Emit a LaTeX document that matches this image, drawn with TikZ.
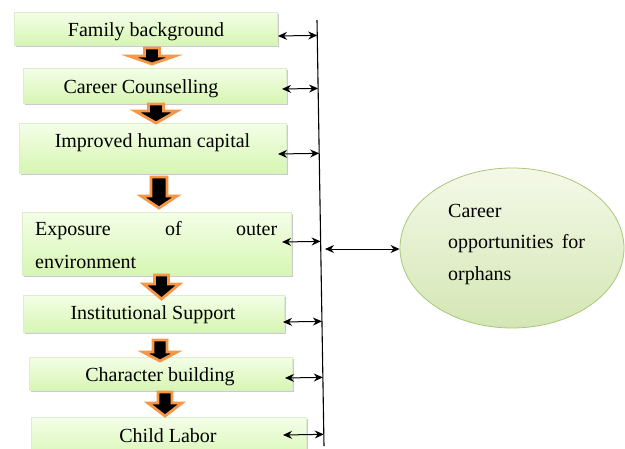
\documentclass[tikz,border=0pt]{standalone}
\usepackage{fontspec}
\setmainfont{Liberation Serif}
\newfontfamily\timesfont{Liberation Serif}
\usetikzlibrary{shadows,arrows.meta,calc,shapes.geometric}
\definecolor{boxtop}{RGB}{244,254,232}
\definecolor{boxbot}{RGB}{214,246,178}
\definecolor{boxline}{RGB}{220,238,204}
\definecolor{elltop}{RGB}{244,249,232}
\definecolor{ellbot}{RGB}{212,230,180}
\definecolor{ellline}{RGB}{168,200,120}
\definecolor{arrorange}{RGB}{247,150,70}
\newcommand\dnarr[7]{% name, cx, top, headstart, tip, shaft half, head half
  \draw[downarr] (#2-#6,#3) -- (#2+#6,#3) -- (#2+#6,#4) -- (#2+#7,#4) -- (#2,#5)
    -- (#2-#7,#4) -- (#2-#6,#4) -- cycle;
  \coordinate (#1) at (#2,#5);}
\begin{document}
\begin{tikzpicture}[x=1pt,y=-1pt,
  box/.style={draw=boxline, line width=0.4pt, top color=boxtop, bottom color=boxbot,
    anchor=north west, inner sep=0pt,
    drop shadow={shadow xshift=1.5pt, shadow yshift=-2pt, opacity=0.35, fill=black!60}},
  lbl/.style={font=\timesfont\fontsize{20}{24}\selectfont, anchor=base, inner sep=0pt},
  dbl/.style={{Stealth[length=9pt,width=8pt]}-{Stealth[length=9pt,width=8pt]}, line width=1pt},
  downarr/.style={draw=arrorange, fill=black, line width=2.8pt, line join=miter}]
\useasboundingbox (0,0) rectangle (625,448);
\clip (0,0) rectangle (625,448);
% boxes
\node[box, minimum width=263, minimum height=33] (b1) at (14,12) {};
\node[box, minimum width=263, minimum height=35] (b2) at (23,68) {};
\node[box, minimum width=267, minimum height=50] (b3) at (19,123) {};
\node[box, minimum width=269, minimum height=63] (b4) at (22,212) {};
\node[box, minimum width=261, minimum height=37] (b5) at (23,295) {};
\node[box, minimum width=263, minimum height=33] (b6) at (29,357) {};
\node[box, minimum width=275, minimum height=45] (b7) at (31,417) {};
% texts
\node[lbl] (t1) at (146,36) {Family background};
\node[lbl] (t2) at (141,93) {Career Counselling};
\node[lbl] (t3) at (152.5,147) {Improved human capital};
\node[lbl, anchor=base west] (t4a) at (35,235) {\makebox[242pt][s]{Exposure\hfill of\hfill outer}};
\node[lbl, anchor=base west] (t4b) at (35,268) {environment};
\node[lbl] (t5) at (153,319) {Institutional Support};
\node[lbl] (t6) at (160,381) {Character building};
\node[lbl] (t7) at (168,442) {Child Labor};
% down arrows
\dnarr{d1}{152}{48}{56}{64}{7.5}{23}
\dnarr{d2}{156}{104}{111}{123}{7.5}{21}
\dnarr{d3}{159}{177}{196}{208}{8}{18}
\dnarr{d4}{161.5}{275}{284}{299}{7}{18}
\dnarr{d5}{160}{340}{352}{361}{7}{17}
\dnarr{d6}{165}{392}{403}{416}{7}{17}
% vertical bus line
\coordinate (vtop) at (317,20);
\coordinate (vbot) at (324,446);
\draw[line width=1.1pt] (vtop) -- (vbot);
% double arrows
\coordinate (a1) at (278,36);
\coordinate (a2) at (282,89);
\coordinate (a3) at (278,154);
\coordinate (a4) at (282,242);
\coordinate (a5) at (283,322);
\coordinate (a6) at (285,378);
\coordinate (a7) at (283,435);
\foreach \i in {1,...,7}{
  \draw[dbl] (a\i) -- ($(vtop)!(a\i)!(vbot)$);
}
% ellipse
\node[ellipse, draw=ellline, line width=0.8pt, top color=elltop, bottom color=ellbot,
  minimum width=224, minimum height=160, inner sep=0pt] (E) at (512,248) {};
\node[lbl, anchor=base west] (e1) at (448,217) {Career};
\node[lbl, anchor=base west] (e2) at (448,248) {opportunities\hspace{8pt}for};
\node[lbl, anchor=base west] (e3) at (448,280) {orphans};
\coordinate (c0) at (325,249);
\draw[dbl] (c0) -- (E.west |- c0);
\end{tikzpicture}
\end{document}
